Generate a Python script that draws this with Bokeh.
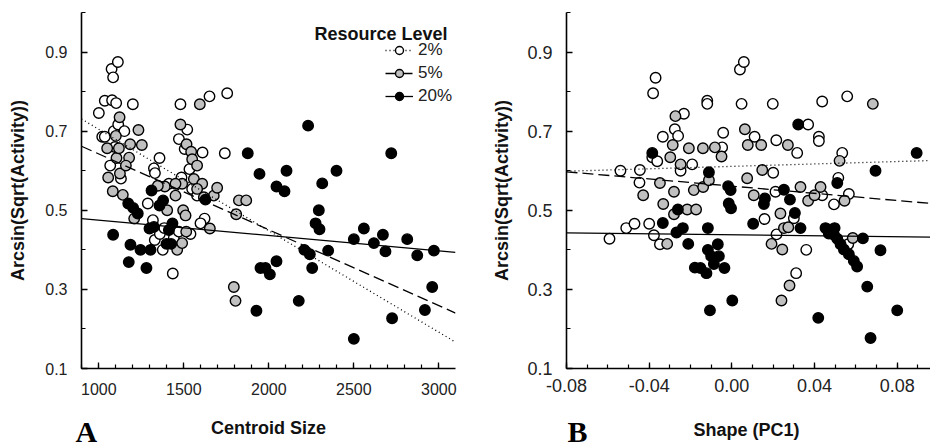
import numpy as np
from bokeh.plotting import figure
from bokeh.layouts import row, column
from bokeh.models import FixedTicker, NumeralTickFormatter, Legend, LegendItem, Label, Range1d
from bokeh.embed import file_html
from bokeh.resources import INLINE

# ---------------- data ----------------
levels = ["2%", "5%", "20%"]

# Panel A: centroid size vs arcsin(sqrt(activity))
cs_2 = [1000, 1035, 1075, 1084, 1112, 1078, 1102, 1200, 1088, 1114, 1067, 1020, 1035, 1288, 1324,
        1330, 1357, 1329, 1359, 1376, 1435, 1480, 1471, 1520, 1486, 1533, 1610, 1651, 1755, 1741,
        1622, 1598, 1441, 1471, 1539, 1549, 1578, 1412, 1095, 1150, 1130, 1505, 1318, 1385]
act_cs_2 = [0.746, 0.777, 0.857, 0.836, 0.875, 0.778, 0.771, 0.768, 0.700, 0.717, 0.613, 0.686, 0.686,
            0.517, 0.606, 0.594, 0.632, 0.425, 0.440, 0.400, 0.340, 0.768, 0.680, 0.704, 0.583, 0.604,
            0.646, 0.788, 0.796, 0.644, 0.479, 0.467, 0.430, 0.446, 0.440, 0.554, 0.537, 0.567, 0.660,
            0.700, 0.580, 0.655, 0.475, 0.455]

cs_5 = [1049, 1122, 1104, 1118, 1184, 1233, 1253, 1055, 1082, 1141, 1124, 1178, 1159, 1208, 1594,
        1480, 1516, 1543, 1549, 1578, 1559, 1490, 1451, 1388, 1347, 1402, 1496, 1510, 1608, 1578,
        1676, 1696, 1653, 1824, 1867, 1808, 1794, 1804, 1514, 1461, 1490, 1618, 1451, 1100]
act_cs_5 = [0.657, 0.735, 0.632, 0.657, 0.667, 0.703, 0.665, 0.583, 0.548, 0.539, 0.593, 0.633, 0.613,
            0.479, 0.768, 0.717, 0.667, 0.648, 0.629, 0.613, 0.579, 0.567, 0.537, 0.560, 0.562, 0.500,
            0.500, 0.487, 0.567, 0.554, 0.537, 0.557, 0.454, 0.525, 0.525, 0.490, 0.306, 0.271, 0.446,
            0.400, 0.417, 0.533, 0.567, 0.688]

cs_20 = [1084, 1173, 1202, 1229, 1186, 1176, 1245, 1280, 1304, 1298, 1324, 1310, 1378, 1357, 1433,
         1412, 1398, 1425, 1627, 1876, 1945, 2104, 2045, 2092, 2231, 2398, 2314, 2294, 2275, 2298,
         2720, 2500, 2559, 2618, 2671, 2686, 2814, 2873, 2971, 2961, 2918, 2725, 2500, 2349, 2209,
         2241, 2255, 2176, 2045, 1951, 1980, 2006, 1927]
act_cs_20 = [0.438, 0.517, 0.506, 0.492, 0.413, 0.369, 0.400, 0.354, 0.400, 0.454, 0.458, 0.550, 0.525,
             0.512, 0.467, 0.450, 0.415, 0.415, 0.527, 0.644, 0.592, 0.600, 0.560, 0.548, 0.714, 0.600,
             0.568, 0.500, 0.467, 0.452, 0.644, 0.427, 0.454, 0.417, 0.438, 0.396, 0.427, 0.386, 0.398,
             0.306, 0.248, 0.227, 0.175, 0.398, 0.400, 0.389, 0.354, 0.271, 0.371, 0.354, 0.354, 0.338,
             0.246]

# Panel B: shape (PC1) vs arcsin(sqrt(activity))
pc_2 = [-0.0592, -0.0511, -0.0471, -0.0539, -0.0445, -0.0447, -0.0400, -0.0377, -0.0348, -0.0369,
        -0.0381, -0.0385, -0.0361, -0.0334, -0.0276, -0.0260, -0.0232, -0.0248, -0.0192, -0.0119,
        -0.0119, -0.0047, -0.0042, 0.0039, 0.0058, 0.0047, 0.0110, 0.0198, 0.0215, 0.0200, 0.0158,
        0.0216, 0.0316, 0.0369, 0.0421, 0.0421, 0.0437, 0.0558, 0.0534, 0.0515, 0.0494, 0.0566,
        0.0563, 0.0360, 0.0311, 0.0300, 0.0211, 0.0437]
act_pc_2 = [0.428, 0.455, 0.466, 0.600, 0.602, 0.570, 0.466, 0.437, 0.414, 0.835, 0.796, 0.634, 0.624,
            0.686, 0.705, 0.688, 0.744, 0.600, 0.616, 0.777, 0.769, 0.659, 0.696, 0.856, 0.875, 0.769,
            0.686, 0.769, 0.677, 0.595, 0.478, 0.439, 0.645, 0.717, 0.686, 0.675, 0.775, 0.788, 0.645,
            0.582, 0.515, 0.541, 0.414, 0.400, 0.341, 0.480, 0.547, 0.538]

pc_5 = [-0.0429, -0.0332, -0.0313, -0.0348, -0.0286, -0.0298, -0.0273, -0.0248, -0.0280, -0.0280,
        -0.0208, -0.0216, -0.0173, -0.0184, -0.0139, -0.0140, -0.0082, -0.0050, -0.0111, 0.0063,
        0.0077, 0.0074, 0.0106, 0.0142, 0.0147, 0.0192, 0.0235, 0.0244, 0.0252, 0.0271, 0.0273,
        0.0240, 0.0279, 0.0332, 0.0369, 0.0400, 0.0429, 0.0521, 0.0545, 0.0585, 0.0682]
act_pc_5 = [0.538, 0.516, 0.415, 0.569, 0.665, 0.634, 0.738, 0.616, 0.547, 0.490, 0.657, 0.502, 0.502,
            0.551, 0.559, 0.657, 0.659, 0.636, 0.576, 0.705, 0.665, 0.581, 0.538, 0.665, 0.602, 0.415,
            0.492, 0.401, 0.455, 0.665, 0.457, 0.272, 0.310, 0.559, 0.524, 0.538, 0.559, 0.625, 0.524,
            0.430, 0.769]

pc_20 = [-0.0385, -0.0334, -0.0261, -0.0268, -0.0237, -0.0211, -0.0179, -0.0152, -0.0123, -0.0106,
         -0.0116, -0.0116, -0.0100, -0.0068, -0.0063, -0.0036, -0.0087, -0.0111, -0.0018, -0.0006,
         -0.0015, -0.0004, 0.0002, 0.0103, 0.0160, 0.0155, 0.0252, 0.0281, 0.0305, 0.0321, 0.0332,
         0.0418, 0.0453, 0.0469, 0.0494, 0.0510, 0.0526, 0.0542, 0.0566, 0.0590, 0.0606, 0.0634,
         0.0655, 0.0671, 0.0695, 0.0719, 0.0800, 0.0894, 0.0510, 0.0497]
act_pc_20 = [0.645, 0.468, 0.502, 0.444, 0.455, 0.415, 0.355, 0.354, 0.341, 0.247, 0.455, 0.400, 0.384,
             0.414, 0.384, 0.354, 0.364, 0.596, 0.561, 0.551, 0.517, 0.505, 0.272, 0.466, 0.530, 0.516,
             0.552, 0.527, 0.493, 0.717, 0.455, 0.228, 0.455, 0.441, 0.438, 0.428, 0.414, 0.401, 0.389,
             0.372, 0.358, 0.429, 0.307, 0.177, 0.600, 0.399, 0.247, 0.645, 0.569, 0.455]

# fitted regression lines (intercept, slope)
fit_cs_intercept = [0.961, 0.834, 0.514]
fit_cs_slope = [-2.564e-4, -1.917e-4, -3.89e-5]
fit_pc_intercept = [0.611, 0.561, 0.438]
fit_pc_slope = [0.153, -0.454, -0.0625]

y_ticks = [0.1, 0.3, 0.5, 0.7, 0.9]
y_minor = [0.1, 0.2, 0.3, 0.4, 0.5, 0.6, 0.7, 0.8, 0.9, 1.0]
cs_ticks = [1000, 1500, 2000, 2500, 3000]
cs_minor = list(range(900, 3101, 100))
pc_ticks = [-0.08, -0.04, 0.0, 0.04, 0.08]
pc_minor = [round(-0.08 + 0.01 * i, 2) for i in range(19)]

y_title = "Arcsin(Sqrt(Activity))"
x_titles = ["Centroid Size", "Shape (PC1)"]
panel_tags = ["A", "B"]
legend_title = "Resource Level"

# ---------------- styling ----------------
FILL = ["white", "#c0c0c0", "black"]
DASH = ["1 3", "11 5", "solid"]
SANS = "Liberation Sans"
MAIN_H = 405
FOOT_H = 448 - MAIN_H


def style_axes(p, tick_size, xstand, ystand, ylab_stand):
    for ax in (p.xaxis[0], p.yaxis[0]):
        ax.axis_line_width = 1.6
        ax.axis_line_color = "black"
        ax.major_tick_in = 6
        ax.major_tick_out = 0
        ax.minor_tick_in = 4
        ax.minor_tick_out = 0
        ax.major_tick_line_width = 1.3
        ax.minor_tick_line_width = 1.2
        ax.major_label_text_font = SANS
        ax.major_label_text_font_size = tick_size
        ax.major_label_text_color = "#222222"
        ax.axis_label_text_font = SANS
        ax.axis_label_text_font_style = "bold"
        ax.axis_label_text_color = "#111111"
        ax.axis_label_text_font_size = "18px"
    p.xaxis[0].major_label_standoff = xstand
    p.yaxis[0].major_label_standoff = ystand
    p.yaxis[0].axis_label_standoff = ylab_stand
    p.yaxis[0].axis_label = y_title
    p.xgrid.visible = False
    p.ygrid.visible = False
    p.outline_line_color = None


def draw_panel(p, xs, ys, intercepts, slopes, x0, x1):
    scat = []
    for i in range(3):
        r = p.scatter(xs[i], ys[i], size=10.5, fill_color=FILL[i], line_color="black", line_width=1.4)
        scat.append(r)
    lines = []
    for i in range(3):
        xx = [x0, x1]
        yy = [intercepts[i] + slopes[i] * x for x in xx]
        r = p.line(xx, yy, line_color="black", line_width=1.3, line_dash=DASH[i])
        lines.append(r)
    return scat, lines


# ---------------- panel A ----------------
xa0, xa1 = 898, 3098
pA = figure(width=465, height=MAIN_H, x_range=Range1d(xa0, xa1), y_range=Range1d(0.1, 1.0),
            output_backend="svg", toolbar_location=None,
            min_border_left=81, min_border_right=10, min_border_top=10,
            min_border_bottom=MAIN_H - 368)
pA.xaxis[0].ticker = FixedTicker(ticks=cs_ticks, minor_ticks=cs_minor)
pA.yaxis[0].ticker = FixedTicker(ticks=y_ticks, minor_ticks=y_minor)
pA.xaxis[0].formatter = NumeralTickFormatter(format="0")
pA.yaxis[0].formatter = NumeralTickFormatter(format="0.0")
style_axes(pA, "16px", 14, 14, 14)
scatA, linesA = draw_panel(pA, [cs_2, cs_5, cs_20], [act_cs_2, act_cs_5, act_cs_20],
                           fit_cs_intercept, fit_cs_slope, xa0, xa1)

legend = Legend(items=[LegendItem(label=levels[i], renderers=[linesA[i], scatA[i]]) for i in range(3)],
                location=(304, 262), glyph_width=28, glyph_height=20, label_height=20, spacing=3,
                label_standoff=5, padding=0, margin=0, border_line_color=None,
                background_fill_alpha=0, label_text_font=SANS, label_text_font_size="17px",
                label_text_color="#222222")
pA.add_layout(legend)
pA.add_layout(Label(x=366, y=335, x_units="screen", y_units="screen", text=legend_title,
                    text_align="right", text_baseline="alphabetic", text_font=SANS,
                    text_font_style="bold", text_font_size="18px", text_color="#111111"))

# ---------------- panel B ----------------
xb0, xb1 = -0.08, 0.0961
pB = figure(width=465, height=MAIN_H, x_range=Range1d(xb0, xb1), y_range=Range1d(0.1, 1.0),
            output_backend="svg", toolbar_location=None,
            min_border_left=101, min_border_right=0, min_border_top=12,
            min_border_bottom=MAIN_H - 372)
pB.xaxis[0].ticker = FixedTicker(ticks=pc_ticks, minor_ticks=pc_minor)
pB.yaxis[0].ticker = FixedTicker(ticks=y_ticks, minor_ticks=y_minor)
pB.xaxis[0].formatter = NumeralTickFormatter(format="0.00")
pB.yaxis[0].formatter = NumeralTickFormatter(format="0.0")
style_axes(pB, "18px", 10, 14, 12)
draw_panel(pB, [pc_2, pc_5, pc_20], [act_pc_2, act_pc_5, act_pc_20],
           fit_pc_intercept, fit_pc_slope, xb0, xb1)

# ---------------- footer with x titles and panel tags ----------------
foot = figure(width=930, height=FOOT_H, x_range=Range1d(0, 1), y_range=Range1d(0, 1),
              output_backend="svg", toolbar_location=None, x_axis_type=None, y_axis_type=None,
              min_border=0, min_border_left=0, min_border_right=0, min_border_top=0,
              min_border_bottom=0)
foot.outline_line_color = None
foot.xgrid.visible = False
foot.ygrid.visible = False
for k, (tx, ty, gx, gy) in enumerate([(268, 21, 75, 17), (746, 19, 567, 17)]):
    foot.add_layout(Label(x=tx, y=ty, x_units="screen", y_units="screen", text=x_titles[k],
                          text_align="center", text_baseline="middle", text_font=SANS,
                          text_font_style="bold", text_font_size="18px", text_color="#111111"))
    foot.add_layout(Label(x=gx, y=gy, x_units="screen", y_units="screen", text=panel_tags[k],
                          text_align="left", text_baseline="middle",
                          text_font="Liberation Serif", text_font_style="bold",
                          text_font_size="30px", text_color="black"))

layout = column(row(pA, pB), foot)
open("out.html", "w").write(file_html(layout, INLINE))
